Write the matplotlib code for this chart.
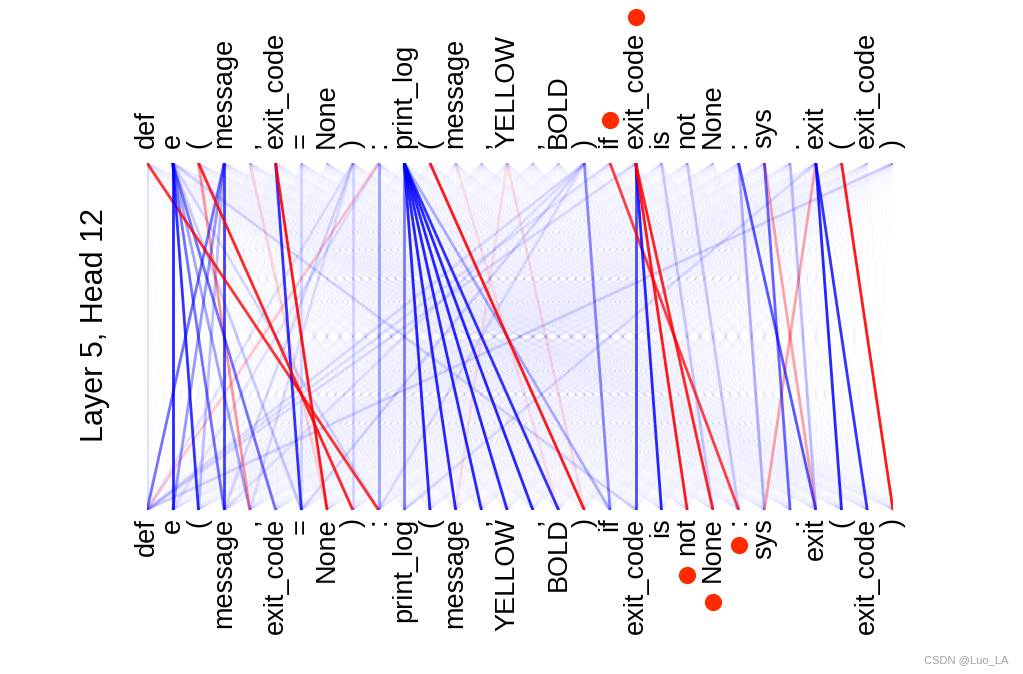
import matplotlib
matplotlib.use("Agg")
import matplotlib.pyplot as plt
from matplotlib.collections import LineCollection

plt.rcParams['font.family'] = ['Liberation Sans', 'DejaVu Sans']

# tokens (same on both sides)
tokens = ['def', 'e', '(', 'message', ',', 'exit_code', '=', 'None', ')', ':',
          'print_log', '(', 'message', ',', 'YELLOW', ',', 'BOLD', ')', 'if',
          'exit_code', 'is', 'not', 'None', ':', 'sys', '.', 'exit', '(',
          'exit_code', ')']

# attention links: top token -> bottom token, weight (negative = red)
link_src = [0, 0, 1, 1, 1, 1, 1, 1, 1, 1, 2, 2, 3, 3, 3, 3, 4, 5, 5, 6, 8, 8, 8, 8,
            9, 9, 9, 10, 10, 10, 10, 10, 10, 10, 10, 11, 12, 14, 14, 17, 17, 17,
            17, 17, 18, 18, 19, 19, 19, 19, 19, 20, 21, 23, 23, 24, 24, 25, 26,
            26, 26, 26, 27, 29]
link_dst = [9, 0, 1, 2, 3, 5, 4, 6, 9, 19, 8, 4, 3, 0, 1, 2, 7, 6, 7, 6, 8, 3, 4, 0,
            9, 0, 1, 10, 11, 12, 13, 14, 15, 16, 18, 17, 16, 17, 12, 18, 0, 3,
            9, 6, 23, 0, 19, 20, 21, 22, 0, 22, 23, 26, 24, 25, 26, 26, 27,
            28, 24, 10, 29, 0]
link_weight = [-0.8, 0.12, 0.85, 0.8, 0.55, 0.55, 0.35, 0.2, 0.15, 0.15, -0.85, -0.4,
               0.75, 0.55, 0.4, 0.25, -0.15, 0.8, -0.9, 0.15, 0.15, 0.15, 0.12, 0.1,
               0.35, -0.2, 0.1, 0.5, 0.85, 0.85, 0.85, 0.85, 0.85, 0.8, 0.3, -0.9,
               -0.1, -0.12, -0.1, 0.45, 0.12, 0.1, 0.12, 0.15, -0.75, 0.1, 0.7,
               0.85, -0.9, -0.85, 0.12, 0.2, 0.2, 0.65, 0.3, 0.6, -0.35, 0.25,
               0.85, 0.8, -0.35, 0.12, -0.9, 0.15]
background_weight = 0.02

# tokens marked with a dot
marked_top = [18, 19]
marked_bottom = [21, 22, 23]

fig = plt.figure(figsize=(10.23, 6.74), dpi=100)
ax = fig.add_axes([147 / 1023, 164 / 674, 746 / 1023, 347 / 674])
n = len(tokens)
ax.set_xlim(0, n - 1)
ax.set_ylim(0, 1)
ax.axis('off')

# faint background attention for every pair
listed = set(zip(link_src, link_dst))
bg = [[(i, 1), (j, 0)] for i in range(n) for j in range(n) if (i, j) not in listed]
ax.add_collection(LineCollection(bg, colors=[(0, 0, 1, background_weight)], linewidths=1.0))

# listed links, weakest first
order = sorted(range(len(link_src)), key=lambda k: abs(link_weight[k]))
for k in order:
    w = link_weight[k]
    col = (1, 0, 0, abs(w)) if w < 0 else (0, 0, 1, abs(w))
    ax.plot([link_src[k], link_dst[k]], [1, 0], color=col, lw=2, solid_capstyle='butt')

top_labels = []
bottom_labels = []
for i, tok in enumerate(tokens):
    t = ax.annotate(tok, xy=(i, 1), xytext=(0, 10.5), textcoords='offset points',
                    rotation=90, ha='center', va='bottom', fontsize=19.5)
    top_labels.append(t)
    b = ax.annotate(tok, xy=(i, 0), xytext=(0, -5.5), textcoords='offset points',
                    rotation=90, ha='center', va='top', fontsize=19.5)
    bottom_labels.append(b)

# dots at the end of the marked labels
fig.canvas.draw()
renderer = fig.canvas.get_renderer()
inv = ax.transData.inverted()
for i in marked_top:
    bb = top_labels[i].get_window_extent(renderer)
    x, y = inv.transform((ax.transData.transform((i, 1))[0], bb.y1 + 15))
    ax.scatter([x], [y], s=130, color='#ff2a00', clip_on=False, zorder=5)
for i in marked_bottom:
    bb = bottom_labels[i].get_window_extent(renderer)
    x, y = inv.transform((ax.transData.transform((i, 0))[0], bb.y0 - 20))
    ax.scatter([x], [y], s=130, color='#ff2a00', clip_on=False, zorder=5)

fig.text(95 / 1023, 1 - 325 / 674, 'Layer 5, Head 12', rotation=90,
         ha='center', va='center', fontsize=22)
fig.text(1008 / 1023, 1 - 660 / 674, 'CSDN @Luo_LA', ha='right', va='center',
         fontsize=8, color='#a0a0a0')

fig.savefig('out.png', dpi=100)
